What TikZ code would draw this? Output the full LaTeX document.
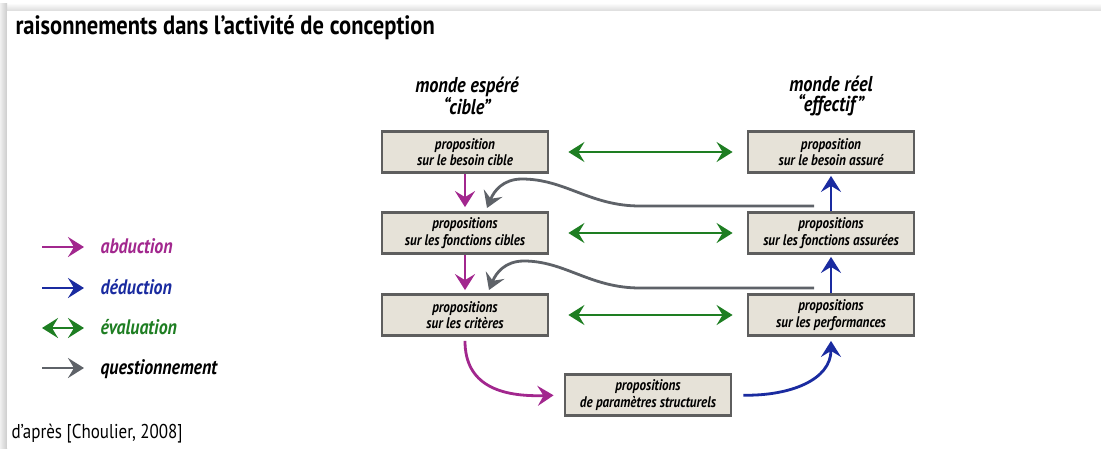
\documentclass[tikz,border=0pt]{standalone}
\usepackage{fontspec}
\setmainfont{PT Sans}[FakeStretch=0.85]
\usepackage{xcolor}
\usepackage{tikz}
\usetikzlibrary{arrows.meta}
\definecolor{abdcol}{HTML}{A2278E}
\definecolor{dedcol}{HTML}{1A2BA0}
\definecolor{evacol}{HTML}{1E7E22}
\definecolor{quecol}{HTML}{5E6268}
\definecolor{boxfill}{HTML}{E6E2D8}
\definecolor{boxline}{HTML}{5E5E5E}

\begin{document}
\begin{tikzpicture}[x=1pt, y=-1pt,
    box/.style={draw=boxline, fill=boxfill, line width=2.8pt, minimum width=166pt, minimum height=41pt, inner sep=0pt, align=center, font=\fontsize{15.4}{16.5}\selectfont\bfseries\itshape},
    head/.style={align=center, font=\fontsize{21.5}{20}\selectfont\bfseries\itshape},
    legtxt/.style={anchor=base west, font=\fontsize{21}{21}\selectfont\bfseries\itshape},
    tip/.style={-{Stealth[length=16pt, width=20pt, inset=6pt]}},
    abd/.style={tip, draw=abdcol, line width=2.8pt},
    ded/.style={tip, draw=dedcol, line width=2.8pt},
    eva/.style={{Stealth[length=16pt, width=20pt, inset=6pt]}-{Stealth[length=16pt, width=20pt, inset=6pt]}, draw=evacol, line width=2.8pt},
    que/.style={tip, draw=quecol, line width=2.8pt}]
  % page and shadow
  \useasboundingbox (0,0) rectangle (1101,448);
  \fill[white] (0,0) rectangle (1101,448);
  \shade[top color=white, bottom color=black!14] (0,3) rectangle (1101,11);
  \shade[left color=black!6, right color=black!20] (0,3) rectangle (7,448);
  \fill[white] (7,11) rectangle (1101,448);

  \node[anchor=base west, font=\fontsize{26.5}{26.5}\selectfont\bfseries] (title) at (12,34) {raisonnements dans l’activité de conception};

  % the two worlds
  \node[head] (hcible) at (467,96) {monde espéré\\“cible”};
  \node[head] (heffectif) at (831,96) {monde réel\\“effectif”};

  \node[box] (besoinc) at (465,152) {proposition\\sur le besoin cible};
  \node[box] (fonctc) at (465,233) {propositions\\sur les fonctions cibles};
  \node[box] (critc) at (465,315) {propositions\\sur les critères};
  \node[box] (besoina) at (831,152) {proposition\\sur le besoin assuré};
  \node[box] (foncta) at (831,233) {propositions\\sur les fonctions assurées};
  \node[box] (perfa) at (831,315) {propositions\\sur les performances};
  \node[box] (param) at (648,395) {propositions\\de paramètres structurels};

  % evaluation
  \draw[eva, shorten <=19pt, shorten >=14pt] (besoinc) -- (besoina);
  \draw[eva, shorten <=19pt, shorten >=14pt] (fonctc) -- (foncta);
  \draw[eva, shorten <=19pt, shorten >=14pt] (critc) -- (perfa);

  % abduction
  \draw[abd, shorten >=4pt] (besoinc.south) -- (fonctc.north);
  \draw[abd, shorten >=3pt] (fonctc.south) -- (critc.north);
  \draw[abd, shorten <=4pt, shorten >=10pt] (critc.south) .. controls (465,385) and (500,397) .. (param.west);

  % deduction
  \draw[ded, shorten >=2pt] (foncta.north) -- (besoina.south);
  \draw[ded, shorten >=2pt] (perfa.north) -- (foncta.south);
  \draw[ded, shorten <=11pt, shorten >=4pt] (param.east) .. controls (790,396) and (831,380) .. (perfa.south);

  % questionnement
  \coordinate (q1s) at (814,206);
  \coordinate (q1e) at (487,208);
  \coordinate (q2s) at (814,288);
  \coordinate (q2e) at (489,290);
  \draw[que] (q1s) -- (640,206) .. controls (590,206) and (565,179) .. (522,179) .. controls (503,179) and (494,191) .. (q1e);
  \draw[que] (q2s) -- (640,288) .. controls (590,288) and (565,261) .. (524,261) .. controls (505,261) and (496,273) .. (q2e);

  % legend
  \node[legtxt, text=abdcol] (labd) at (97,253) {abduction};
  \node[legtxt, text=dedcol] (lded) at (97,294) {déduction};
  \node[legtxt, text=evacol] (leva) at (97,334) {évaluation};
  \node[legtxt] (lque) at (97,374) {questionnement};
  \coordinate (a1) at (42,247); \coordinate (a2) at (84,247);
  \coordinate (d1) at (42,288); \coordinate (d2) at (84,288);
  \coordinate (e1) at (42,328); \coordinate (e2) at (84,328);
  \coordinate (g1) at (42,368); \coordinate (g2) at (84,368);
  \draw[abd] (a1) -- (a2);
  \draw[ded] (d1) -- (d2);
  \draw[eva] (e1) -- (e2);
  \draw[que] (g1) -- (g2);

  \node[anchor=base west, font=\fontsize{20}{20}\selectfont] (source) at (8,438) {d’après [Choulier, 2008]};
\end{tikzpicture}
\end{document}
